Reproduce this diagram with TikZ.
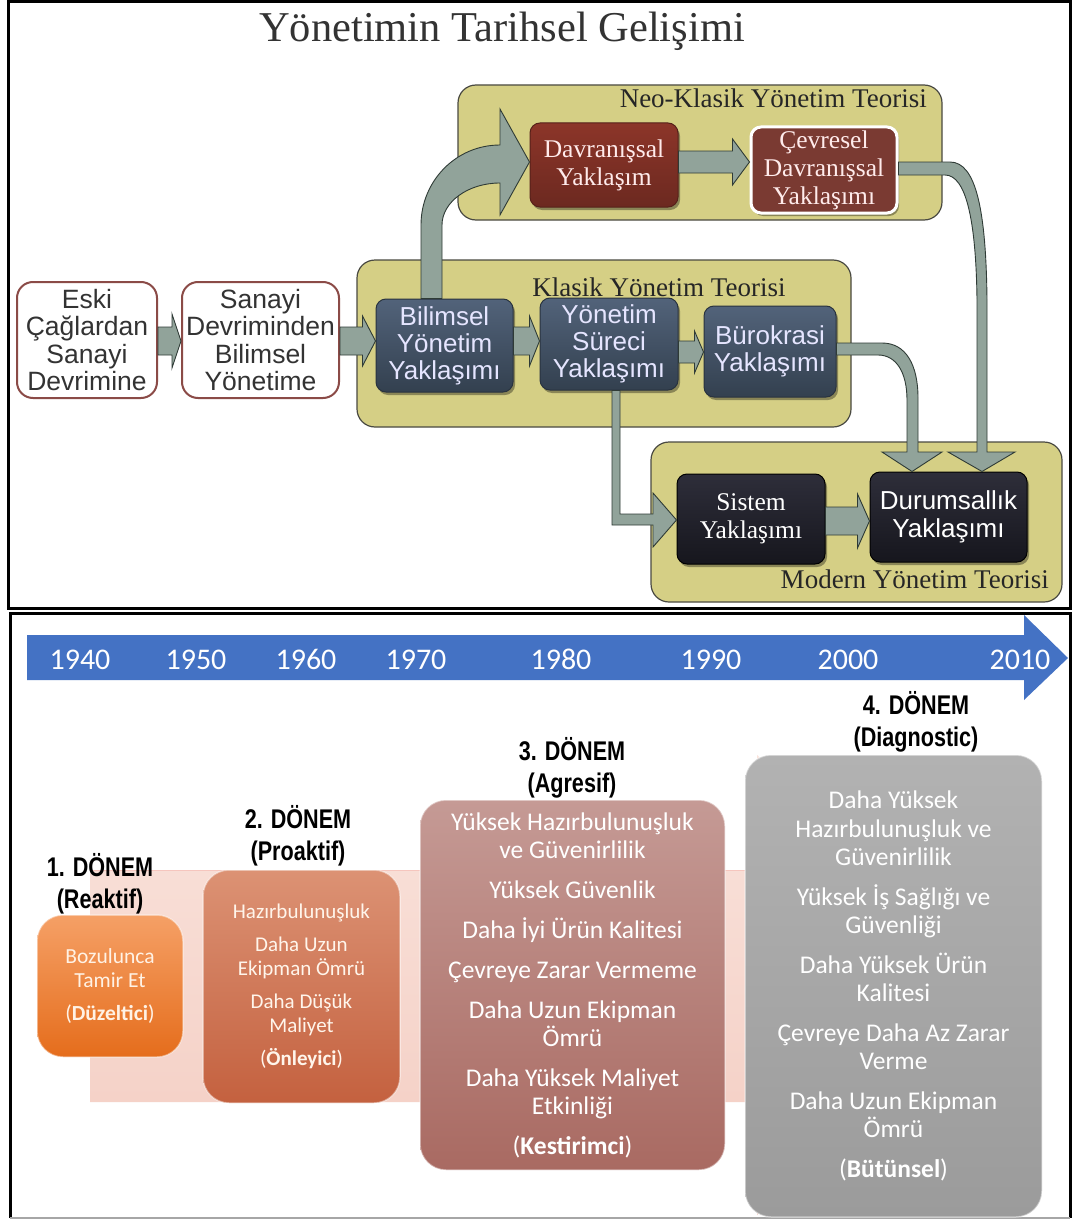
\documentclass[tikz,border=0pt]{standalone}
\usepackage{fontspec}
\setmainfont{Liberation Serif}
\newfontfamily\sansf{Liberation Sans}
\newfontfamily\calf{Carlito}
\newfontfamily\narrowf[FakeStretch=0.8]{Liberation Sans}
\usetikzlibrary{calc,shadows}

\definecolor{titlegray}{HTML}{333333}
\definecolor{olivefill}{HTML}{D5CF85}
\definecolor{olivedraw}{HTML}{4A4A42}
\definecolor{arrowfill}{HTML}{91A39A}
\definecolor{arrowdraw}{HTML}{2F3B36}
\definecolor{startdraw}{HTML}{8B4B47}
\definecolor{starttext}{HTML}{333333}
\definecolor{bluetop}{HTML}{52637A}
\definecolor{bluebot}{HTML}{33404F}
\definecolor{redtop}{HTML}{8C3529}
\definecolor{redbot}{HTML}{6C2920}
\definecolor{envfill}{HTML}{7A3A32}
\definecolor{darktop}{HTML}{2E2E3A}
\definecolor{darkbot}{HTML}{16161D}
\definecolor{timeline}{HTML}{4472C4}
\definecolor{pinktop}{HTML}{FAE4DD}
\definecolor{pinkbot}{HTML}{F3CCC1}
\definecolor{orangetop}{HTML}{F5A066}
\definecolor{orangebot}{HTML}{E56D1C}
\definecolor{rusttop}{HTML}{DC9274}
\definecolor{rustbot}{HTML}{C4613F}
\definecolor{rosetop}{HTML}{C59A95}
\definecolor{rosebot}{HTML}{A96A62}
\definecolor{greytop}{HTML}{B2B2B2}
\definecolor{greybot}{HTML}{9B9B9B}

\tikzset{
  panel/.style={draw=black, line width=3pt},
  theory/.style={draw=olivedraw, line width=1.2pt, fill=olivefill, rounded corners=18pt},
  theorylabel/.style={font=\fontsize{27}{29}\selectfont, text=black!85, inner sep=0pt},
  connector/.style={draw=arrowdraw, line width=0.9pt, fill=arrowfill, line join=miter},
  startbox/.style={draw=startdraw, line width=2pt, fill=white, rounded corners=16pt,
    align=center, inner sep=0pt, text=starttext, font=\sansf\fontsize{26.5}{27.4}\selectfont},
  bluebox/.style={draw=bluebot!80!black, line width=1pt, top color=bluetop, bottom color=bluebot,
    rounded corners=10pt, align=center, inner sep=0pt, text=white!90!blue,
    font=\sansf\fontsize{26}{27}\selectfont,
    drop shadow={shadow xshift=2pt, shadow yshift=-3pt, opacity=0.35, fill=black}},
  redbox/.style={draw=redbot!80!black, line width=1pt, top color=redtop, bottom color=redbot,
    rounded corners=10pt, align=center, inner sep=0pt, text=white!92!red,
    font=\fontsize{25.5}{28}\selectfont,
    drop shadow={shadow xshift=2pt, shadow yshift=-3pt, opacity=0.35, fill=black}},
  darkbox/.style={draw=black, line width=1pt, top color=darktop, bottom color=darkbot,
    rounded corners=10pt, align=center, inner sep=0pt, text=white,
    drop shadow={shadow xshift=2pt, shadow yshift=-3pt, opacity=0.35, fill=black}},
  year/.style={font=\calf\fontsize{30}{32}\selectfont, text=white, anchor=base},
  period/.style={font=\narrowf\bfseries\fontsize{27}{32}\selectfont, align=center, inner sep=0pt},
  phase/.style={rounded corners=26pt, align=center, inner sep=0pt, text=white,
    draw=white, draw opacity=0.45, line width=1.5pt},
}

% horizontal block arrow: from anchor, to anchor, centre y, body half, head half, head length
\newcommand{\blockarrow}[6]{%
  \draw[connector] ($(#1 |- 0,#3)+(0,-#4)$) -- ($(#2 |- 0,#3)+(-#6,-#4)$)
    -- ($(#2 |- 0,#3)+(-#6,-#5)$) -- (#2 |- 0,#3)
    -- ($(#2 |- 0,#3)+(-#6,#5)$) -- ($(#2 |- 0,#3)+(-#6,#4)$)
    -- ($(#1 |- 0,#3)+(0,#4)$) -- cycle;}

\begin{document}
\begin{tikzpicture}[x=1pt, y=-1pt]
\useasboundingbox[fill=white] (0,0) rectangle (1074,1220);

% ---------- upper panel: historical development ----------
\draw[panel] (8,2) rectangle (1070,608);
\node[font=\fontsize{42.5}{48}\selectfont, text=titlegray, anchor=base, inner sep=0pt]
  (title) at (502,42) {Yönetimin Tarihsel Gelişimi};

% theory groups
\node[theory, minimum width=484pt, minimum height=135pt] (neo) at (700,152.5) {};
\node[theory, minimum width=494pt, minimum height=167pt] (klasik) at (604,343.5) {};
\node[theory, minimum width=411pt, minimum height=160pt] (modern) at (856.5,522) {};
\node[theorylabel, anchor=base east] (neolbl) at (927,108) {Neo-Klasik Yönetim Teorisi};
\node[theorylabel, anchor=base east] (modlbl) at (1049,588) {Modern Yönetim Teorisi};

% early eras
\node[startbox, minimum width=140pt, minimum height=116pt] (eski) at (87,340)
  {Eski\\Çağlardan\\Sanayi\\Devrimine};
\node[startbox, minimum width=157pt, minimum height=116pt] (sanayi) at (260.5,340)
  {Sanayi\\Devriminden\\Bilimsel\\Yönetime};

% classical approaches
\node[bluebox, minimum width=137pt, minimum height=93pt] (bilimsel) at (444.5,345.5)
  {Bilimsel\\Yönetim\\Yaklaşımı};
\node[bluebox, minimum width=138pt, minimum height=92pt] (surec) at (609,344)
  {Yönetim\\Süreci\\Yaklaşımı};
\node[bluebox, minimum width=132pt, minimum height=91pt] (buro) at (770,351.5)
  {Bürokrasi\\Yaklaşımı};
\node[theorylabel, anchor=base] (klaslbl) at (659,296) {Klasik Yönetim Teorisi};

% neo-classical approaches
\node[redbox, minimum width=148pt, minimum height=84pt] (davran) at (604,165)
  {Davranışsal\\Yaklaşım};
\node[redbox, draw=white, line width=3pt, top color=envfill, bottom color=envfill,
  minimum width=146pt, minimum height=86pt] (cevre) at (824,170)
  {Çevresel\\Davranışsal\\Yaklaşımı};

% modern approaches
\node[darkbox, font=\fontsize{25.5}{28}\selectfont, minimum width=148pt, minimum height=90pt]
  (sistem) at (751,519) {Sistem\\Yaklaşımı};
\node[darkbox, font=\sansf\fontsize{26}{28}\selectfont, minimum width=157pt, minimum height=90pt]
  (durum) at (948.5,517) {Durumsallık\\Yaklaşımı};

% straight block arrows
\blockarrow{eski.east}{sanayi.west}{341}{14}{27}{9}
\blockarrow{sanayi.east}{bilimsel.west}{341}{14}{25}{13}
\blockarrow{bilimsel.east}{surec.west}{341}{14}{25}{10}
\blockarrow{surec.east}{buro.west}{352}{11}{21}{9}
\blockarrow{davran.east}{cevre.west}{162}{11}{23}{17}
\blockarrow{sistem.east}{durum.west}{521}{14}{27}{12}

% bent arrow: scientific management -> behavioural approach
\draw[connector] (bilimsel.north -| 421,0) -- (421,225)
  .. controls (421,181) and (456,145) .. (500,145) -- (500,109)
  -- (davran.west |- 0,162) -- (500,215) -- (500,183)
  .. controls (468,183) and (442,202) .. (442,225) -- (bilimsel.north -| 442,0) -- cycle;

% environmental behavioural -> contingency
\draw[connector] (cevre.east |- 0,162) -- (950,162)
  .. controls (976,162) and (986,210) .. (987,300) -- (987,452) -- (1015,452)
  -- (durum.north -| 982,0) -- (948,452) -- (977,452) -- (977,300)
  .. controls (976,220) and (966,175) .. (945,175) -- (cevre.east |- 0,175) -- cycle;

% bureaucracy -> contingency
\draw[connector] (buro.east |- 0,343) -- (882,343)
  .. controls (906,343) and (918,365) .. (918,398) -- (918,452) -- (942,452)
  -- (durum.north -| 912,0) -- (882,452) -- (907,452) -- (907,400)
  .. controls (907,372) and (896,355) .. (878,355) -- (buro.east |- 0,355) -- cycle;

% management process -> systems approach
\draw[connector] (surec.south -| 612,0) -- (612,525) -- (653,525) -- (653,547)
  -- (sistem.west |- 0,520) -- (653,493) -- (653,514) -- (620,514)
  -- (surec.south -| 620,0) -- cycle;

% ---------- lower panel: maintenance periods ----------
\draw[black, line width=3pt] (10,1218) -- (10,613) -- (1070,613) -- (1070,1218);
\draw[black!35, line width=1.5pt] (10,1218) -- (1070,1218);

% time axis
\fill[timeline] (27,635) -- (1024,635) -- (1024,615) -- (1068,658) -- (1024,700)
  -- (1024,680) -- (27,680) -- cycle;
\node[year] (y1940) at (80,669) {1940};
\node[year] (y1950) at (196,669) {1950};
\node[year] (y1960) at (306,669) {1960};
\node[year] (y1970) at (416,669) {1970};
\node[year] (y1980) at (561,669) {1980};
\node[year] (y1990) at (711,669) {1990};
\node[year] (y2000) at (848,669) {2000};
\node[year] (y2010) at (1020,669) {2010};

% faint progress arrow behind the periods
\shade[top color=pinktop, bottom color=pinkbot] (90,870) -- (757,870) -- (757,755)
  -- (1000,985) -- (757,1215) -- (757,1102) -- (90,1102) -- cycle;
\draw[pinkbot!80!red, opacity=0.4, line width=1pt] (90,870) -- (757,870);

% period headings
\node[period] (h1) at (100,884) {1. DÖNEM\\(Reaktif)};
\node[period] (h2) at (298,836) {2. DÖNEM\\(Proaktif)};
\node[period] (h3) at (572,768) {3. DÖNEM\\(Agresif)};
\node[period] (h4) at (916,722) {4. DÖNEM\\(Diagnostic)};

% period boxes
\node[phase, top color=orangetop, bottom color=orangebot, text=white!90!orange,
  font=\calf\fontsize{21.5}{24}\selectfont, minimum width=146pt, minimum height=142pt]
  (p1) at (110,986) {Bozulunca\\Tamir Et\\[9pt](\textbf{Düzeltici})};
\node[phase, top color=rusttop, bottom color=rustbot, text=white!92!orange,
  font=\calf\fontsize{21}{23.5}\selectfont, minimum width=197pt, minimum height=233pt]
  (p2) at (301.5,986.5)
  {Hazırbulunuşluk\\[10pt]Daha Uzun\\Ekipman Ömrü\\[10pt]Daha Düşük\\Maliyet\\[10pt](\textbf{Önleyici})};
\node[phase, top color=rosetop, bottom color=rosebot,
  font=\calf\fontsize{25.5}{28}\selectfont, minimum width=305pt, minimum height=370pt]
  (p3) at (572.5,985)
  {Yüksek Hazırbulunuşluk\\ve Güvenirlilik\\[12pt]Yüksek Güvenlik\\[12pt]Daha İyi Ürün Kalitesi\\[12pt]Çevreye Zarar Vermeme\\[12pt]Daha Uzun Ekipman\\Ömrü\\[12pt]Daha Yüksek Maliyet\\Etkinliği\\[12pt](\textbf{Kestirimci})};
\node[phase, top color=greytop, bottom color=greybot,
  font=\calf\fontsize{25.5}{28.5}\selectfont, minimum width=297pt, minimum height=462pt]
  (p4) at (893.5,986)
  {Daha Yüksek\\Hazırbulunuşluk ve\\Güvenirlilik\\[11pt]Yüksek İş Sağlığı ve\\Güvenliği\\[11pt]Daha Yüksek Ürün\\Kalitesi\\[11pt]Çevreye Daha Az Zarar\\Verme\\[11pt]Daha Uzun Ekipman\\Ömrü\\[11pt](\textbf{Bütünsel})};
\end{tikzpicture}
\end{document}
